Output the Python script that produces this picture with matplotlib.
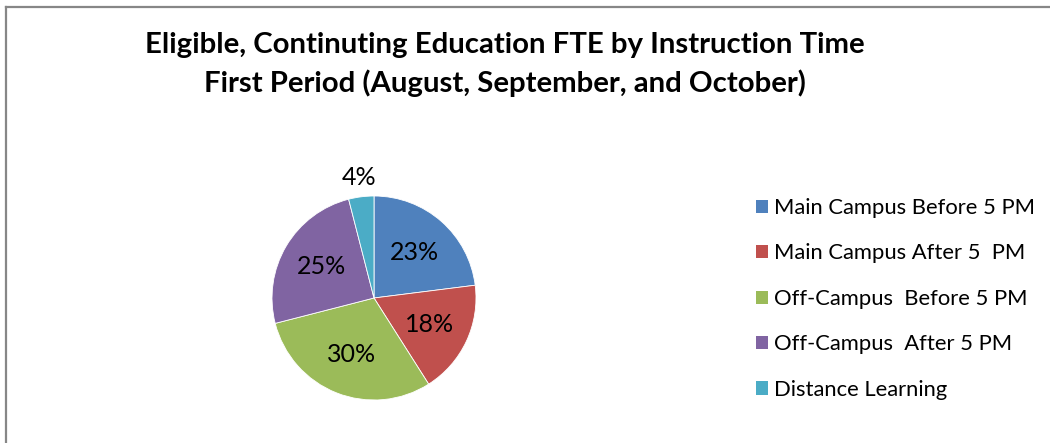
import matplotlib
matplotlib.use("Agg")
import matplotlib.pyplot as plt
from matplotlib.lines import Line2D
from matplotlib.patches import Patch
import numpy as np

plt.rcParams['font.family'] = ['Lato', 'DejaVu Sans']

# data
categories = ['Main Campus Before 5 PM', 'Main Campus After 5  PM',
              'Off-Campus  Before 5 PM', 'Off-Campus  After 5 PM',
              'Distance Learning']
shares = [23, 18, 30, 25, 4]
colors = ['#4F81BD', '#C0504D', '#9BBB59', '#8064A2', '#4BACC6']
title_lines = ['Eligible, Continuting Education FTE by Instruction Time',
               'First Period (August, September, and October)']

W, H = 1050, 443
fig = plt.figure(figsize=(W / 100, H / 100), dpi=100)

# border (only top and left visible in the crop)
fig.add_artist(Line2D([6 / W, 6 / W], [0, 1 - 7 / H], color='#878787', lw=1.6))
fig.add_artist(Line2D([6 / W, 1], [1 - 7 / H, 1 - 7 / H], color='#878787', lw=1.6))

# title
fig.text(505 / W, 1 - 53 / H, title_lines[0], ha='center', va='baseline',
         fontsize=21.2, fontweight='bold')
fig.text(505 / W, 1 - 92 / H, title_lines[1], ha='center', va='baseline',
         fontsize=21.2, fontweight='bold')

# pie
cx, cy, box = 374, H - 298, 120
ax = fig.add_axes([(cx - box) / W, (cy - box) / H, 2 * box / W, 2 * box / H])
wedges, texts, autotexts = ax.pie(
    shares, colors=colors, startangle=90, counterclock=False,
    radius=102 / box, autopct='%d%%', pctdistance=0.6,
    wedgeprops=dict(edgecolor='white', linewidth=0.6),
    textprops=dict(fontsize=18, color='black'))
# small slice label sits outside the pie
r = 102 / box
th = np.deg2rad(90 + shares[-1] / 200 * 360)
autotexts[-1].set_position((1.19 * r * np.cos(th), 1.19 * r * np.sin(th)))
autotexts[-1].set_clip_on(False)
ax.set_xlim(-1, 1)
ax.set_ylim(-1, 1)
ax.set_aspect('equal')
ax.axis('off')

# legend
handles = [Patch(facecolor=c, edgecolor='none') for c in colors]
fs = 15.8
fpx = fs * 100 / 72
fig.legend(handles, categories, loc='upper left',
           bbox_to_anchor=(756 / W, 1 - 198 / H), frameon=False,
           fontsize=fs, handlelength=12 / fpx, handleheight=12 / fpx,
           handletextpad=6 / fpx, labelspacing=1.16,
           borderaxespad=0, borderpad=0)

fig.savefig('out.png', dpi=100)
